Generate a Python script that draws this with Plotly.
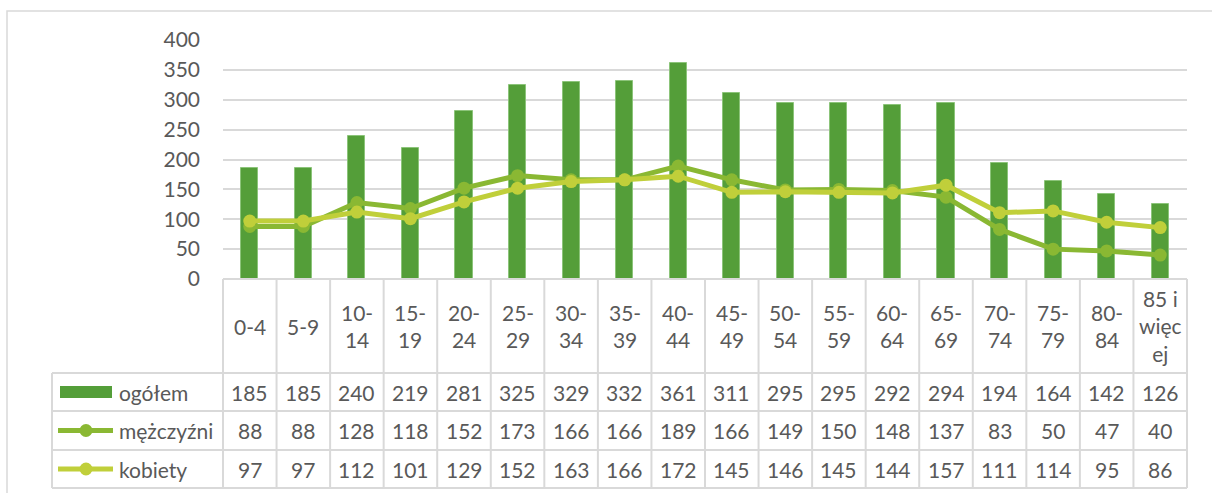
import plotly.graph_objects as go

categories = ["0-4", "5-9", "10-14", "15-19", "20-24", "25-29", "30-34", "35-39", "40-44",
              "45-49", "50-54", "55-59", "60-64", "65-69", "70-74", "75-79", "80-84", "85 i więcej"]
header_labels = ["0-4", "5-9", "10-<br>14", "15-<br>19", "20-<br>24", "25-<br>29", "30-<br>34",
                 "35-<br>39", "40-<br>44", "45-<br>49", "50-<br>54", "55-<br>59", "60-<br>64",
                 "65-<br>69", "70-<br>74", "75-<br>79", "80-<br>84", "85 i<br>więc<br>ej"]
ogolem = [185, 185, 240, 219, 281, 325, 329, 332, 361, 311, 295, 295, 292, 294, 194, 164, 142, 126]
mezczyzni = [88, 88, 128, 118, 152, 173, 166, 166, 189, 166, 149, 150, 148, 137, 83, 50, 47, 40]
kobiety = [97, 97, 112, 101, 129, 152, 163, 166, 172, 145, 146, 145, 144, 157, 111, 114, 95, 86]
series_names = ["ogółem", "mężczyźni", "kobiety"]
y_ticks = [0, 50, 100, 150, 200, 250, 300, 350, 400]

W, H = 1212, 493
C_BAR = "#549E39"
C_M = "#8AB833"
C_K = "#C0CF3A"
GRID = "#D9D9D9"
TXT = "#595959"
FONT = "Lato"
FS = 21

def px(x):
    return x / W

def py(y):
    return 1 - y / H

X0, X1 = 223, 1187
Y_TOP, Y_ZERO = 40, 279
n = len(categories)
xs = list(range(n))

fig = go.Figure()
fig.add_trace(go.Bar(x=xs, y=ogolem, name=series_names[0], width=0.32,
                     marker=dict(color=C_BAR, line=dict(color="#8CC47A", width=1))))
fig.add_trace(go.Scatter(x=xs, y=mezczyzni, name=series_names[1], mode="lines+markers",
                         line=dict(color=C_M, width=5), marker=dict(color=C_M, size=13)))
fig.add_trace(go.Scatter(x=xs, y=kobiety, name=series_names[2], mode="lines+markers",
                         line=dict(color=C_K, width=5), marker=dict(color=C_K, size=13)))

shapes = []
# outer chart border
shapes.append(dict(type="rect", xref="paper", yref="paper", x0=px(7), x1=px(W + 5),
                   y0=py(H + 5), y1=py(11), line=dict(color=GRID, width=1.5)))

def col_edge(k):
    return px(X0 + (X1 - X0) * k / n)

# table lines
rows_y = [373, 411, 450, 488]
shapes.append(dict(type="line", xref="paper", yref="paper", x0=px(X0), x1=px(X1),
                   y0=py(Y_ZERO), y1=py(Y_ZERO), line=dict(color=GRID, width=2)))
for ry in rows_y:
    shapes.append(dict(type="line", xref="paper", yref="paper", x0=px(52), x1=px(X1),
                       y0=py(ry), y1=py(ry), line=dict(color=GRID, width=2)))
for k in range(n + 1):
    shapes.append(dict(type="line", xref="paper", yref="paper", x0=col_edge(k), x1=col_edge(k),
                       y0=py(Y_ZERO), y1=py(488), line=dict(color=GRID, width=2)))
shapes.append(dict(type="line", xref="paper", yref="paper", x0=px(52), x1=px(52),
                   y0=py(373), y1=py(488), line=dict(color=GRID, width=2)))

row_centers = [(373 + 411) / 2, (411 + 450) / 2, (450 + 488) / 2]
# legend keys
shapes.append(dict(type="rect", xref="paper", yref="paper", x0=px(60), x1=px(112),
                   y0=py(row_centers[0] + 6), y1=py(row_centers[0] - 6),
                   fillcolor=C_BAR, line=dict(width=0)))
for rc, col in [(row_centers[1], C_M), (row_centers[2], C_K)]:
    shapes.append(dict(type="line", xref="paper", yref="paper", x0=px(58), x1=px(113),
                       y0=py(rc), y1=py(rc), line=dict(color=col, width=5)))
    shapes.append(dict(type="circle", xref="paper", yref="paper", x0=px(79.5), x1=px(92.5),
                       y0=py(rc + 6.5), y1=py(rc - 6.5), fillcolor=col, line=dict(width=0)))

annotations = []
for i, lab in enumerate(header_labels):
    annotations.append(dict(x=i, xref="x", y=py((Y_ZERO + 373) / 2), yref="paper",
                            text=lab, showarrow=False, xanchor="center", yanchor="middle",
                            font=dict(family=FONT, size=FS, color=TXT)))
for r, (vals, name) in enumerate(zip([ogolem, mezczyzni, kobiety], series_names)):
    annotations.append(dict(x=px(117), xref="paper", y=py(row_centers[r]), yref="paper",
                            text=name, showarrow=False, xanchor="left", yanchor="middle",
                            font=dict(family=FONT, size=FS, color=TXT)))
    for i, v in enumerate(vals):
        annotations.append(dict(x=i, xref="x", y=py(row_centers[r]), yref="paper",
                                text=str(v), showarrow=False, xanchor="center", yanchor="middle",
                                font=dict(family=FONT, size=FS, color=TXT)))

fig.update_layout(
    width=W, height=H,
    margin=dict(l=0, r=0, t=0, b=0, autoexpand=False),
    paper_bgcolor="white", plot_bgcolor="white",
    showlegend=False,
    bargap=0,
    xaxis=dict(domain=[px(X0), px(X1)], range=[-0.5, n - 0.5], showticklabels=False,
               showgrid=False, zeroline=False, showline=False, ticks="", automargin=False),
    yaxis=dict(domain=[py(Y_ZERO), py(Y_TOP)], range=[0, 400], tickvals=y_ticks,
               showgrid=True, gridcolor=GRID, gridwidth=1.5, zeroline=False, showline=False,
               ticks="", ticklabelstandoff=22, automargin=False,
               tickfont=dict(family=FONT, size=FS, color=TXT)),
    shapes=shapes,
    annotations=annotations,
)

fig.write_html("out.html", config={"responsive": False, "displayModeBar": False},
               post_script="document.body.style.margin='0px';document.body.style.padding='0px';")
